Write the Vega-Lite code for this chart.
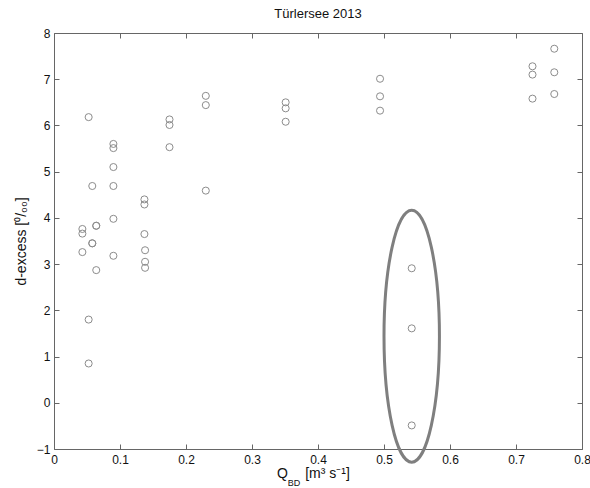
{
  "$schema": "https://vega.github.io/schema/vega-lite/v6.json",
  "width": 528,
  "height": 416,
  "autosize": {"type": "none"},
  "padding": {"left": 54, "top": 33, "right": 8, "bottom": 39},
  "title": {"text": "Türlersee 2013", "fontSize": 13, "fontWeight": "normal", "font": "Liberation Sans", "color": "#111111", "offset": 6, "anchor": "middle"},
  "config": {
    "view": {"stroke": "#666666", "strokeWidth": 1},
    "axis": {
      "grid": false, "domain": false, "tickColor": "#666666", "tickSize": -5,
      "labelFont": "Liberation Sans", "labelFontSize": 12, "labelColor": "#111111",
      "labelFlush": false, "labelOverlap": false, "labelBound": false,
      "titleFont": "Liberation Sans", "titleFontWeight": "normal", "titleColor": "#111111", "titleFontSize": 14
    }
  },
  "datasets": {
    "obs": [
      {"q": 0.043, "d": 3.76}, {"q": 0.043, "d": 3.66}, {"q": 0.043, "d": 3.26},
      {"q": 0.0525, "d": 6.18}, {"q": 0.0525, "d": 1.80}, {"q": 0.0525, "d": 0.85},
      {"q": 0.058, "d": 4.69}, {"q": 0.058, "d": 3.45}, {"q": 0.058, "d": 3.45},
      {"q": 0.064, "d": 3.83}, {"q": 0.064, "d": 3.83}, {"q": 0.064, "d": 2.87},
      {"q": 0.09, "d": 5.60}, {"q": 0.09, "d": 5.51}, {"q": 0.09, "d": 5.10}, {"q": 0.09, "d": 4.69}, {"q": 0.09, "d": 3.98}, {"q": 0.09, "d": 3.18},
      {"q": 0.137, "d": 4.40}, {"q": 0.137, "d": 4.29}, {"q": 0.137, "d": 3.65}, {"q": 0.138, "d": 3.30}, {"q": 0.138, "d": 3.05}, {"q": 0.138, "d": 2.92},
      {"q": 0.175, "d": 6.13}, {"q": 0.175, "d": 6.01}, {"q": 0.175, "d": 5.53},
      {"q": 0.23, "d": 6.64}, {"q": 0.23, "d": 6.44}, {"q": 0.23, "d": 4.59},
      {"q": 0.351, "d": 6.50}, {"q": 0.351, "d": 6.37}, {"q": 0.351, "d": 6.08},
      {"q": 0.494, "d": 7.01}, {"q": 0.494, "d": 6.63}, {"q": 0.494, "d": 6.32},
      {"q": 0.542, "d": 2.91}, {"q": 0.542, "d": 1.61}, {"q": 0.542, "d": -0.49},
      {"q": 0.725, "d": 7.28}, {"q": 0.725, "d": 7.10}, {"q": 0.725, "d": 6.58},
      {"q": 0.758, "d": 7.66}, {"q": 0.758, "d": 7.15}, {"q": 0.758, "d": 6.68}
    ],
    "zone": [{"q": 0.542, "d": 1.44}],
    "q": [{"q": 0.3462, "d": -1, "t": "Q"}],
    "sub": [{"q": 0.3635, "d": -1, "t": "BD"}],
    "unit": [{"q": 0.3805, "d": -1, "t": "[m³ s⁻¹]"}]
  },
  "layer": [
    {
      "data": {"name": "obs"},
      "mark": {"type": "point", "shape": "circle", "size": 50, "filled": false, "stroke": "#8c8c8c", "strokeWidth": 1, "opacity": 1},
      "encoding": {
        "x": {"field": "q", "type": "quantitative", "scale": {"domain": [0, 0.8], "nice": false, "zero": false},
              "axis": {"values": [0, 0.1, 0.2, 0.3, 0.4, 0.5, 0.6, 0.7, 0.8], "format": "~g", "title": null, "labelPadding": 10}},
        "y": {"field": "d", "type": "quantitative", "scale": {"domain": [-1, 8], "nice": false, "zero": false},
              "axis": {"values": [-1, 0, 1, 2, 3, 4, 5, 6, 7, 8], "title": "d-excess [⁰/₀₀]", "labelPadding": 9, "titlePadding": 8}}
      }
    },
    {
      "data": {"name": "zone"},
      "mark": {"type": "point", "shape": "M0,-1 A0.22,1 0 1,1 0,1 A0.22,1 0 1,1 0,-1 Z", "size": 63504, "filled": false, "fill": null, "stroke": "#7f7f7f", "strokeWidth": 3, "opacity": 1},
      "encoding": {
        "x": {"field": "q", "type": "quantitative", "scale": {"domain": [0, 0.8], "nice": false, "zero": false},
              "axis": {"orient": "top", "values": [0, 0.1, 0.2, 0.3, 0.4, 0.5, 0.6, 0.7, 0.8], "labels": false, "title": null}},
        "y": {"field": "d", "type": "quantitative", "scale": {"domain": [-1, 8], "nice": false, "zero": false},
              "axis": {"orient": "right", "values": [-1, 0, 1, 2, 3, 4, 5, 6, 7, 8], "labels": false, "title": null}}
      }
    },
    {
      "data": {"name": "q"},
      "mark": {"type": "text", "font": "Liberation Sans", "fontSize": 14, "align": "center", "baseline": "alphabetic", "dy": 29, "color": "#111111"},
      "encoding": {
        "x": {"field": "q", "type": "quantitative", "scale": {"domain": [0, 0.8], "nice": false, "zero": false}, "axis": null},
        "y": {"field": "d", "type": "quantitative", "scale": {"domain": [-1, 8], "nice": false, "zero": false}, "axis": null},
        "text": {"field": "t"}
      }
    },
    {
      "data": {"name": "sub"},
      "mark": {"type": "text", "font": "Liberation Sans", "fontSize": 9, "align": "center", "baseline": "alphabetic", "dy": 37, "color": "#111111"},
      "encoding": {
        "x": {"field": "q", "type": "quantitative", "scale": {"domain": [0, 0.8], "nice": false, "zero": false}, "axis": null},
        "y": {"field": "d", "type": "quantitative", "scale": {"domain": [-1, 8], "nice": false, "zero": false}, "axis": null},
        "text": {"field": "t"}
      }
    },
    {
      "data": {"name": "unit"},
      "mark": {"type": "text", "font": "Liberation Sans", "fontSize": 14, "align": "left", "baseline": "alphabetic", "dy": 29, "color": "#111111"},
      "encoding": {
        "x": {"field": "q", "type": "quantitative", "scale": {"domain": [0, 0.8], "nice": false, "zero": false}, "axis": null},
        "y": {"field": "d", "type": "quantitative", "scale": {"domain": [-1, 8], "nice": false, "zero": false}, "axis": null},
        "text": {"field": "t"}
      }
    }
  ],
  "resolve": {"axis": {"x": "independent", "y": "independent"}}
}
